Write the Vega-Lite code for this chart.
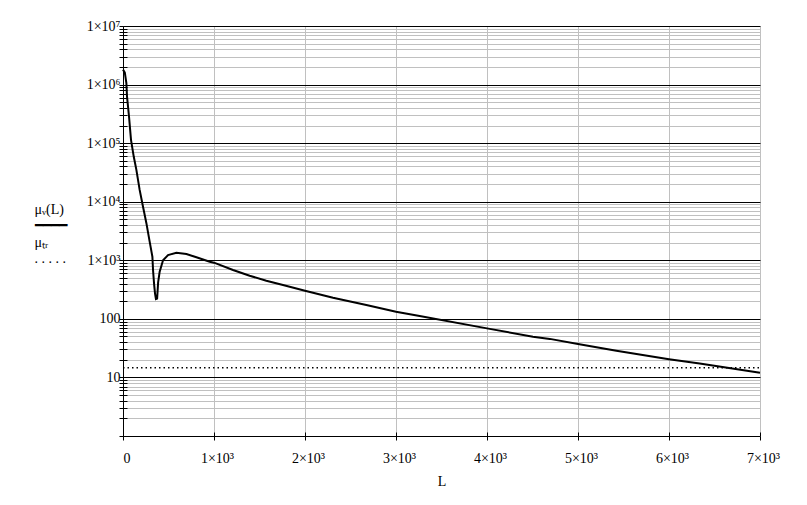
{
  "$schema": "https://vega.github.io/schema/vega-lite/v6.json",
  "width": 637,
  "height": 410,
  "autosize": {"type": "none"},
  "padding": {"left": 123, "top": 26, "right": 47, "bottom": 69},
  "background": "white",
  "config": {
    "view": {"stroke": null},
    "axis": {
      "labelFont": "Liberation Serif",
      "titleFont": "Liberation Serif",
      "labelColor": "black",
      "titleColor": "black",
      "domainColor": "black",
      "tickColor": "black",
      "labelFontSize": 14,
      "titleFontSize": 14,
      "titleFontWeight": "normal"
    }
  },
  "layer": [
    {
      "data": {
        "values": [
          {"L": 0, "mu": 1800000},
          {"L": 20, "mu": 1600000},
          {"L": 37, "mu": 1060000},
          {"L": 44, "mu": 630000},
          {"L": 66, "mu": 285000},
          {"L": 88, "mu": 114000},
          {"L": 118, "mu": 59000},
          {"L": 147, "mu": 35000},
          {"L": 183, "mu": 15900},
          {"L": 220, "mu": 8200},
          {"L": 257, "mu": 4300},
          {"L": 293, "mu": 2080},
          {"L": 323, "mu": 1150},
          {"L": 330, "mu": 683},
          {"L": 341, "mu": 404},
          {"L": 352, "mu": 270},
          {"L": 362, "mu": 218},
          {"L": 375, "mu": 222},
          {"L": 386, "mu": 420},
          {"L": 403, "mu": 638},
          {"L": 440, "mu": 1000},
          {"L": 495, "mu": 1230},
          {"L": 587, "mu": 1349},
          {"L": 697, "mu": 1282},
          {"L": 807, "mu": 1125},
          {"L": 953, "mu": 946},
          {"L": 1000, "mu": 910},
          {"L": 1209, "mu": 683},
          {"L": 1392, "mu": 545},
          {"L": 1575, "mu": 448},
          {"L": 1758, "mu": 378},
          {"L": 2000, "mu": 302},
          {"L": 2308, "mu": 230},
          {"L": 2674, "mu": 172},
          {"L": 3000, "mu": 132},
          {"L": 3260, "mu": 112},
          {"L": 4000, "mu": 68.8},
          {"L": 4505, "mu": 49.4},
          {"L": 4690, "mu": 45.5},
          {"L": 5000, "mu": 37.1},
          {"L": 5422, "mu": 28.5},
          {"L": 6000, "mu": 20.5},
          {"L": 6337, "mu": 17.3},
          {"L": 7000, "mu": 12.0}
        ]
      },
      "mark": {"type": "line", "color": "black", "strokeWidth": 2},
      "encoding": {
        "x": {
          "field": "L",
          "type": "quantitative",
          "scale": {"domain": [0, 7000], "nice": false, "zero": false},
          "axis": {
            "orient": "bottom",
            "values": [0, 1000, 2000, 3000, 4000, 5000, 6000, 7000],
            "grid": true,
            "gridColor": "#c0c0c0",
            "gridWidth": 1,
            "tickSize": 4,
            "labelPadding": 22,
            "labelBaseline": "alphabetic",
            "labelFlush": false,
            "labelOverlap": false,
            "labelBound": false,
            "labelExpr": "datum.value == 0 ? '0' : (datum.value / 1000) + '×10³'",
            "labelAlign": {"condition": {"test": "datum.value == 0", "value": "left"}, "value": "center"},
            "labelOffset": {"condition": {"test": "datum.value == 0", "value": 0}, "value": 3},
            "title": "L",
            "titleY": 49,
            "titleBaseline": "alphabetic"
          }
        },
        "y": {
          "field": "mu",
          "type": "quantitative",
          "scale": {"type": "log", "domain": [1, 10000000], "nice": false},
          "axis": {
            "orient": "left",
            "values": [1, 2, 3, 4, 5, 6, 7, 8, 9,
                       10, 20, 30, 40, 50, 60, 70, 80, 90,
                       100, 200, 300, 400, 500, 600, 700, 800, 900,
                       1000, 2000, 3000, 4000, 5000, 6000, 7000, 8000, 9000,
                       10000, 20000, 30000, 40000, 50000, 60000, 70000, 80000, 90000,
                       100000, 200000, 300000, 400000, 500000, 600000, 700000, 800000, 900000,
                       1000000, 2000000, 3000000, 4000000, 5000000, 6000000, 7000000, 8000000, 9000000,
                       10000000],
            "grid": true,
            "gridWidth": 1,
            "gridColor": {"condition": {"test": "indexof([10, 100, 1000, 10000, 100000, 1000000, 10000000], datum.value) >= 0", "value": "black"}, "value": "#c0c0c0"},
            "tickSize": 4,
            "labelPadding": -1,
            "labelOverlap": false,
            "labelBound": false,
            "labelFlush": false,
            "labelBaseline": "middle",
            "labelExpr": "datum.value == 10000000 ? '1×10⁷' : datum.value == 1000000 ? '1×10⁶' : datum.value == 100000 ? '1×10⁵' : datum.value == 10000 ? '1×10⁴' : datum.value == 1000 ? '1×10³' : datum.value == 100 ? '100' : datum.value == 10 ? '10' : ''",
            "title": ["μᵥ(L)", "━━━━", "μₜᵣ", ". . . . ."],
            "titleAngle": 0,
            "titleAlign": "left",
            "titleBaseline": "top",
            "titleX": -89,
            "titleY": 176,
            "titleLineHeight": 16.5
          }
        }
      }
    },
    {
      "data": {"values": [{"mu_tr": 14.6}]},
      "mark": {"type": "rule", "color": "black", "strokeWidth": 1.5, "strokeDash": [1.5, 3]},
      "encoding": {
        "x": {
          "datum": 0,
          "type": "quantitative",
          "axis": {
            "orient": "bottom",
            "values": [0, 1000, 2000, 3000, 4000, 5000, 6000, 7000],
            "tickSize": -4,
            "labels": false,
            "domain": false,
            "grid": false,
            "title": null
          }
        },
        "x2": {"datum": 7000},
        "y": {
          "field": "mu_tr",
          "type": "quantitative",
          "axis": {
            "orient": "left",
            "values": [1, 2, 3, 4, 5, 6, 7, 8, 9,
                       10, 20, 30, 40, 50, 60, 70, 80, 90,
                       100, 200, 300, 400, 500, 600, 700, 800, 900,
                       1000, 2000, 3000, 4000, 5000, 6000, 7000, 8000, 9000,
                       10000, 20000, 30000, 40000, 50000, 60000, 70000, 80000, 90000,
                       100000, 200000, 300000, 400000, 500000, 600000, 700000, 800000, 900000,
                       1000000, 2000000, 3000000, 4000000, 5000000, 6000000, 7000000, 8000000, 9000000,
                       10000000],
            "tickSize": -4,
            "labels": false,
            "domain": false,
            "grid": false,
            "title": null
          }
        }
      }
    }
  ],
  "resolve": {"axis": {"x": "independent", "y": "independent"}}
}
